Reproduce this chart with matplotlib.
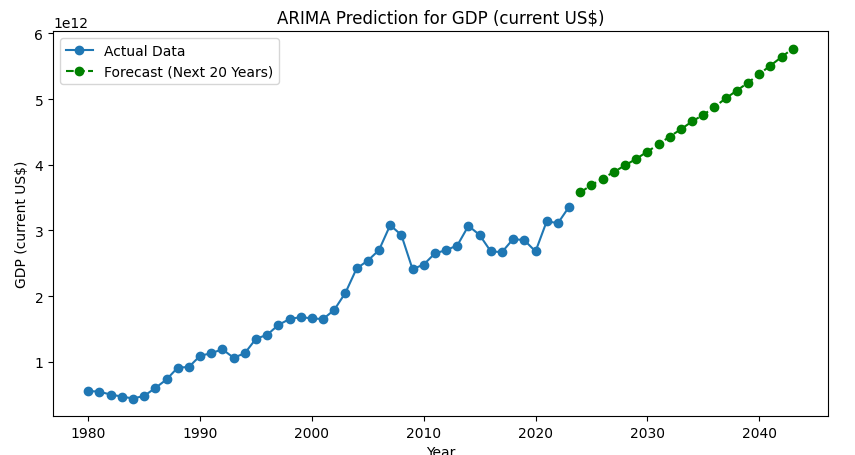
import matplotlib
matplotlib.use('Agg')
import matplotlib.pyplot as plt

# actual GDP, 1980-2023 (units of 1e12 US$)
actual_years = list(range(1980, 2024))
actual_gdp = [0.555, 0.544, 0.50, 0.47, 0.44, 0.48, 0.60, 0.73, 0.91, 0.92,
              1.09, 1.13, 1.19, 1.06, 1.13, 1.35, 1.41, 1.56, 1.65, 1.68,
              1.66, 1.65, 1.79, 2.05, 2.42, 2.54, 2.70, 3.08, 2.93, 2.41,
              2.48, 2.65, 2.70, 2.77, 3.07, 2.93, 2.68, 2.67, 2.87, 2.85,
              2.68, 3.14, 3.11, 3.36]

# ARIMA forecast, 2024-2043
forecast_years = list(range(2024, 2044))
forecast_gdp = [3.58, 3.69, 3.79, 3.89, 3.99, 4.09, 4.20, 4.31, 4.43, 4.54,
                4.66, 4.76, 4.88, 5.01, 5.13, 5.25, 5.38, 5.51, 5.64, 5.77]

scale = 1e12

fig = plt.figure(figsize=(8.55, 4.56), dpi=100)
ax = fig.add_axes([0.062, 0.0855, 0.9064, 0.8443])
ax.plot(actual_years, [v * scale for v in actual_gdp], marker='o',
        label='Actual Data')
ax.plot(forecast_years, [v * scale for v in forecast_gdp], marker='o',
        linestyle='--', color='green', label='Forecast (Next 20 Years)')
ax.set_title('ARIMA Prediction for GDP (current US$)')
ax.set_xlabel('Year')
ax.set_ylabel('GDP (current US$)')
ax.legend(loc='upper left')

fig.savefig('out.png', dpi=100)
